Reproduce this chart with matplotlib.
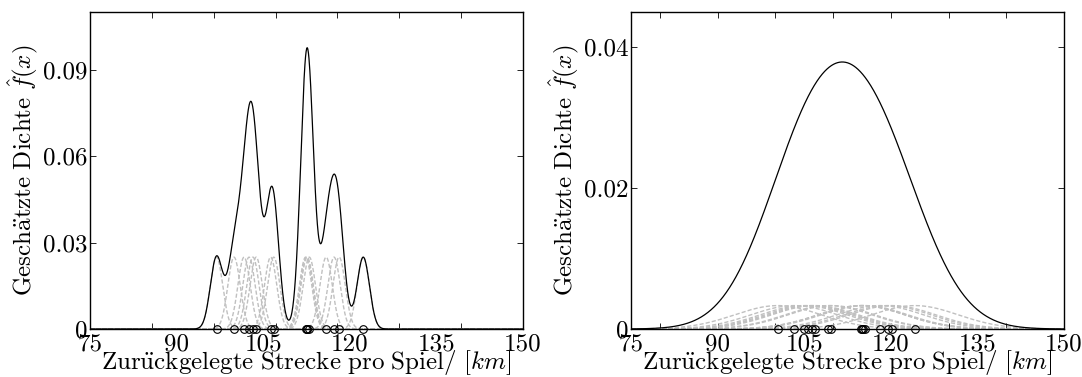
import numpy as np
import matplotlib
matplotlib.use("Agg")
import matplotlib.pyplot as plt

# observations (km per game)
obs = [100.45, 103.28, 104.9, 105.7, 106.34, 106.86, 109.2, 109.7,
       114.85, 115.0, 115.1, 115.45, 118.17, 119.45, 120.27, 124.17]
bandwidths = [1.0, 7.5]
xlims = [(80, 150), (75, 150)]
ylims = [(0, 0.11), (0, 0.045)]
yticks = [[0, 0.03, 0.06, 0.09], [0, 0.02, 0.04]]
ytick_labels = [["0", "0.03", "0.06", "0.09"], ["0", "0.02", "0.04"]]
xtick_marks = [[90, 100, 110, 120, 130, 140], [80, 90, 100, 110, 120, 130, 140]]
xtick_labels = ["75", "90", "105", "120", "135", "150"]
xlabel = r"$\mathrm{Zur\ddot{u}ckgelegte\ Strecke\ pro\ Spiel/\ }[km]$"
ylabel = r"$\mathrm{Gesch\ddot{a}tzte\ Dichte\ }\hat{f}(x)$"

plt.rcParams['font.family'] = ['cmr10', 'DejaVu Serif']
plt.rcParams['mathtext.fontset'] = 'cm'
plt.rcParams['axes.unicode_minus'] = False
FS = 18

fig = plt.figure(figsize=(10.82, 3.77), dpi=100)
positions = [[0.0832, 0.1273, 0.4002, 0.841], [0.5832, 0.1273, 0.4002, 0.841]]

x_data = np.array(obs)
n = len(obs)
for i in range(2):
    ax = fig.add_axes(positions[i])
    h = bandwidths[i]
    lo, hi = xlims[i]
    xs = np.linspace(lo, hi, 1500)
    total = np.zeros_like(xs)
    for xi in obs:
        k = np.exp(-0.5 * ((xs - xi) / h) ** 2) / (n * h * np.sqrt(2 * np.pi))
        total += k
        ax.plot(xs, k, color='#c0c0c0', ls='--', lw=1.0, dashes=(3, 1.5))
    ax.plot(xs, total, color='black', lw=0.9)
    ax.plot(x_data, np.zeros(n), 'o', mfc='none', mec='black', ms=5.5,
            mew=0.8, clip_on=False, zorder=5)
    ax.set_xlim(lo, hi)
    ax.set_ylim(*ylims[i])
    ax.xaxis.remove_overlapping_locs = False
    ax.set_xticks(xtick_marks[i])
    ax.set_xticklabels([])
    ax.set_xticks(np.linspace(lo, hi, len(xtick_labels)), minor=True)
    ax.set_xticklabels(xtick_labels, minor=True, fontsize=FS)
    ax.tick_params(axis='x', which='major', direction='in', length=4,
                   top=True, bottom=True, width=0.6)
    ax.tick_params(axis='x', which='minor', length=0, pad=3)
    ax.set_yticks(yticks[i])
    ax.set_yticklabels(ytick_labels[i], fontsize=FS)
    ax.tick_params(axis='y', direction='in', length=4, left=True, right=True,
                   width=0.6, pad=2)
    for sp in ax.spines.values():
        sp.set_linewidth(1.0)
    ax.set_xlabel(xlabel, fontsize=FS, labelpad=-5)
    ax.set_ylabel(ylabel, fontsize=FS, labelpad=1)

fig.savefig("out.png", dpi=100)
